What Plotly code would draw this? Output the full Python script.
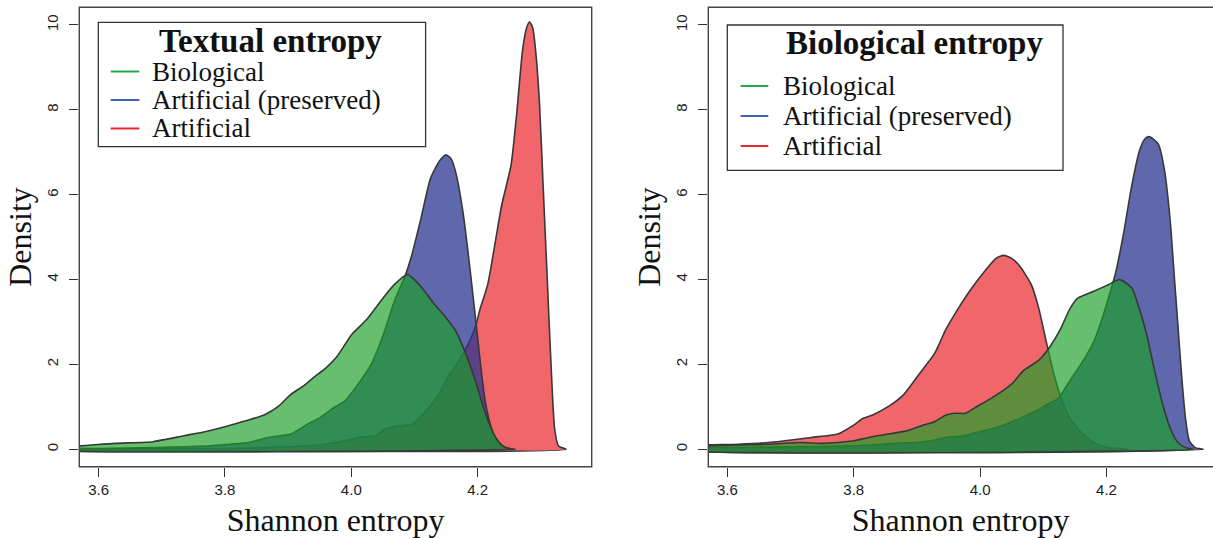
import plotly.graph_objects as go

W, H = 1213, 538

# ---------------- data: left panel (Textual entropy) ----------------
txt_bio_x = [3.50, 3.569, 3.625, 3.686, 3.735, 3.77, 3.80, 3.83, 3.862, 3.885, 3.904, 3.925, 3.941,
             3.96, 3.977, 4.001, 4.025, 4.05, 4.068, 4.089, 4.10, 4.115, 4.13, 4.15, 4.165, 4.18,
             4.19, 4.20, 4.21, 4.22, 4.23, 4.24, 4.25, 4.26]
txt_bio_y = [0.04, 0.08, 0.14, 0.18, 0.32, 0.42, 0.53, 0.66, 0.81, 1.02, 1.29, 1.50, 1.70,
             1.92, 2.18, 2.71, 3.07, 3.56, 3.88, 4.12, 4.0, 3.75, 3.45, 3.1, 2.8, 2.3,
             1.9, 1.45, 0.95, 0.55, 0.25, 0.08, 0.02, 0.0]

txt_pres_x = [3.50, 3.60, 3.686, 3.777, 3.807, 3.838, 3.868, 3.904, 3.928, 3.953, 3.971, 3.989,
              4.007, 4.032, 4.050, 4.068, 4.086, 4.095, 4.110, 4.1255, 4.140, 4.150, 4.158, 4.165,
              4.177, 4.189, 4.198, 4.207, 4.213, 4.222, 4.231, 4.243, 4.256]
txt_pres_y = [0.01, 0.02, 0.04, 0.08, 0.12, 0.16, 0.28, 0.36, 0.57, 0.77, 0.97, 1.13,
              1.46, 2.02, 2.67, 3.48, 4.12, 4.53, 5.42, 6.39, 6.80, 6.94, 6.85, 6.55,
              5.58, 4.12, 2.91, 1.70, 1.05, 0.49, 0.16, 0.04, 0.0]

txt_art_x = [3.50, 3.70, 3.80, 3.868, 3.928, 3.959, 3.989, 4.013, 4.038, 4.056, 4.074, 4.086,
             4.098, 4.110, 4.135, 4.153, 4.171, 4.186, 4.197, 4.204, 4.216, 4.2285, 4.238,
             4.253, 4.262, 4.271, 4.277, 4.282, 4.287, 4.292, 4.298, 4.304, 4.310, 4.316,
             4.322, 4.328, 4.340]
txt_art_y = [0.0, 0.01, 0.02, 0.04, 0.08, 0.12, 0.20, 0.28, 0.32, 0.49, 0.55, 0.57,
             0.60, 0.77, 1.21, 1.70, 2.10, 2.51, 2.91, 3.31, 3.88, 4.93, 5.74,
             6.70, 7.92, 9.38, 9.90, 10.07, 9.95, 9.38, 8.16, 6.14, 4.12, 2.10,
             0.49, 0.08, 0.0]

# ---------------- data: right panel (Biological entropy) ----------------
bio_bio_x = [3.50, 3.571, 3.617, 3.665, 3.714, 3.751, 3.775, 3.80, 3.824, 3.855, 3.885, 3.910,
             3.928, 3.946, 3.959, 3.977, 3.995, 4.014, 4.035, 4.050, 4.069, 4.093, 4.111, 4.127,
             4.142, 4.154, 4.179, 4.203, 4.221, 4.240, 4.252, 4.264, 4.276, 4.289, 4.301,
             4.313, 4.325, 4.337]
bio_bio_y = [0.06, 0.08, 0.105, 0.12, 0.16, 0.14, 0.16, 0.20, 0.28, 0.36, 0.44, 0.57,
             0.65, 0.81, 0.85, 0.85, 1.01, 1.17, 1.37, 1.54, 1.86, 2.10, 2.43, 2.83,
             3.31, 3.56, 3.72, 3.88, 4.00, 3.80, 3.31, 2.67, 1.86, 1.05, 0.49,
             0.16, 0.04, 0.0]

bio_pres_x = [3.50, 3.571, 3.714, 3.80, 3.824, 3.849, 3.873, 3.898, 3.922, 3.946, 3.971, 3.995,
              4.020, 4.044, 4.069, 4.087, 4.105, 4.124, 4.142, 4.160, 4.179, 4.191, 4.203,
              4.215, 4.227, 4.240, 4.252, 4.260, 4.267, 4.275, 4.282, 4.292, 4.301, 4.307,
              4.313, 4.319, 4.325, 4.331, 4.340, 4.353]
bio_pres_y = [0.03, 0.04, 0.06, 0.08, 0.10, 0.12, 0.15, 0.16, 0.20, 0.28, 0.31, 0.40,
              0.49, 0.61, 0.77, 0.89, 1.05, 1.21, 1.62, 2.02, 2.51, 2.99, 3.56,
              4.20, 5.09, 6.22, 7.03, 7.30, 7.37, 7.30, 7.19, 6.55, 5.34, 4.12,
              2.91, 1.70, 0.73, 0.20, 0.04, 0.0]

bio_art_x = [3.50, 3.571, 3.617, 3.665, 3.708, 3.733, 3.757, 3.775, 3.80, 3.815, 3.830, 3.855,
             3.879, 3.904, 3.928, 3.946, 3.965, 3.983, 4.0075, 4.025, 4.037, 4.05, 4.0625,
             4.081, 4.093, 4.105, 4.118, 4.130, 4.142, 4.160, 4.179, 4.203, 4.234]
bio_art_y = [0.07, 0.105, 0.12, 0.16, 0.23, 0.28, 0.32, 0.36, 0.57, 0.73, 0.81, 1.01,
             1.29, 1.78, 2.26, 2.83, 3.31, 3.72, 4.20, 4.50, 4.57, 4.50, 4.32,
             3.88, 3.31, 2.51, 1.70, 1.13, 0.73, 0.40, 0.16, 0.04, 0.0]

series_names = ["Biological", "Artificial (preserved)", "Artificial"]
panel_titles = ["Textual entropy", "Biological entropy"]
x_ticks = [3.6, 3.8, 4.0, 4.2]
x_tick_labels = ["3.6", "3.8", "4.0", "4.2"]
y_ticks = [0, 2, 4, 6, 8, 10]
y_tick_labels = ["0", "2", "4", "6", "8", "10"]

# ---------------- styles ----------------
fill_cols = {
    "Biological": "rgba(26,160,39,0.672)",
    "Artificial (preserved)": "rgba(43,54,146,0.75)",
    "Artificial": "rgba(235,51,56,0.75)",
}
legend_cols = {
    "Biological": "#22a84a",
    "Artificial (preserved)": "#3f5fb5",
    "Artificial": "#e8262e",
}
OUTLINE = "#383838"
SERIF = "Liberation Serif"
SANS = "Liberation Sans"

fig = go.Figure()


def add_density(xs, ys, name, xa, ya):
    px = [xs[0]] + list(xs) + [xs[0]]
    py = [0] + list(ys) + [0]
    fig.add_trace(go.Scatter(
        x=px, y=py, mode="lines", fill="toself", fillcolor=fill_cols[name],
        line=dict(color=OUTLINE, width=1.6, shape="spline", smoothing=0.6),
        name=name, showlegend=False, xaxis=xa, yaxis=ya, hoverinfo="skip"))


# draw order: Artificial, Artificial (preserved), Biological (top)
add_density(txt_art_x, txt_art_y, "Artificial", "x", "y")
add_density(txt_pres_x, txt_pres_y, "Artificial (preserved)", "x", "y")
add_density(txt_bio_x, txt_bio_y, "Biological", "x", "y")
add_density(bio_art_x, bio_art_y, "Artificial", "x2", "y2")
add_density(bio_pres_x, bio_pres_y, "Artificial (preserved)", "x2", "y2")
add_density(bio_bio_x, bio_bio_y, "Biological", "x2", "y2")

# ---------------- axes ----------------
def fx(p):
    return p / W


def fy(p):
    return 1 - p / H


ydom = [fy(466.7), fy(7.3)]
xdom1 = [fx(79.3), fx(591.7)]
xdom2 = [fx(708.3), 1.0]
x1_range = [3.5693, 4.3807]
x2_range = [3.5699, 3.5699 + (W - 708.3) / 632.0]
y_range = [-0.41, 10.417]

common_x = dict(tickmode="array", tickvals=x_ticks, ticktext=x_tick_labels,
                ticks="outside", ticklen=9, tickwidth=1.2, tickcolor="#333",
                showgrid=False, zeroline=False, showline=False,
                tickfont=dict(family=SANS, size=15, color="#222"),
                title=dict(text="Shannon entropy", font=dict(family=SERIF, size=32, color="#111"),
                           standoff=11))
common_y = dict(tickmode="array", tickvals=y_ticks, ticktext=y_tick_labels,
                ticks="outside", ticklen=9, tickwidth=1.2, tickcolor="#333",
                tickangle=-90, ticklabelstandoff=5,
                showgrid=False, zeroline=False, showline=False, range=y_range,
                tickfont=dict(family=SANS, size=15, color="#222"),
                title=dict(text="Density", font=dict(family=SERIF, size=32, color="#111"),
                           standoff=3))

fig.update_layout(
    width=W, height=H, margin=dict(l=0, r=0, t=0, b=0),
    paper_bgcolor="white", plot_bgcolor="white", hovermode=False,
    xaxis=dict(domain=xdom1, range=x1_range, anchor="y", **common_x),
    yaxis=dict(domain=ydom, anchor="x", **common_y),
    xaxis2=dict(domain=xdom2, range=x2_range, anchor="y2", **common_x),
    yaxis2=dict(domain=ydom, anchor="x2", **common_y),
)

# frame boxes
fig.add_shape(type="rect", xref="x domain", yref="y domain", x0=0, x1=1, y0=0, y1=1,
              line=dict(color="#444", width=1.4), layer="above")
fig.add_shape(type="rect", xref="x2 domain", yref="y2 domain", x0=0, x1=512.4 / (W - 708.3),
              y0=0, y1=1, line=dict(color="#444", width=1.4), layer="above")

# ---------------- legends (drawn like R's legend box) ----------------
legend_specs = [
    dict(title=panel_titles[0], box=(98.3, 22.3, 425.6, 146.7), ty=41.0,
         rows=(71.5, 100.0, 128.5), lx=(110.7, 139.3), tx=150.0, tcx=270),
    dict(title=panel_titles[1], box=(727.3, 25.0, 1063.0, 170.3), ty=43.5,
         rows=(86.0, 116.0, 146.0), lx=(740.7, 768.3), tx=780.5, tcx=914),
]
for spec in legend_specs:
    l, t, r, b = spec["box"]
    fig.add_shape(type="rect", xref="paper", yref="paper", x0=fx(l), x1=fx(r), y0=fy(b), y1=fy(t),
                  line=dict(color="#333", width=1.3), fillcolor="white", layer="above")
    fig.add_annotation(xref="paper", yref="paper", x=fx(spec["tcx"]), y=fy(spec["ty"]),
                       text="<b>" + spec["title"] + "</b>", showarrow=False,
                       xanchor="center", yanchor="middle",
                       font=dict(family=SERIF, size=33, color="#111"))
    for name, ry in zip(series_names, spec["rows"]):
        fig.add_shape(type="line", xref="paper", yref="paper",
                      x0=fx(spec["lx"][0]), x1=fx(spec["lx"][1]), y0=fy(ry), y1=fy(ry),
                      line=dict(color=legend_cols[name], width=2), layer="above")
        fig.add_annotation(xref="paper", yref="paper", x=fx(spec["tx"]), y=fy(ry),
                           text=name, showarrow=False, xanchor="left", yanchor="middle",
                           font=dict(family=SERIF, size=27, color="#111"))

fig.write_html("out.html")
